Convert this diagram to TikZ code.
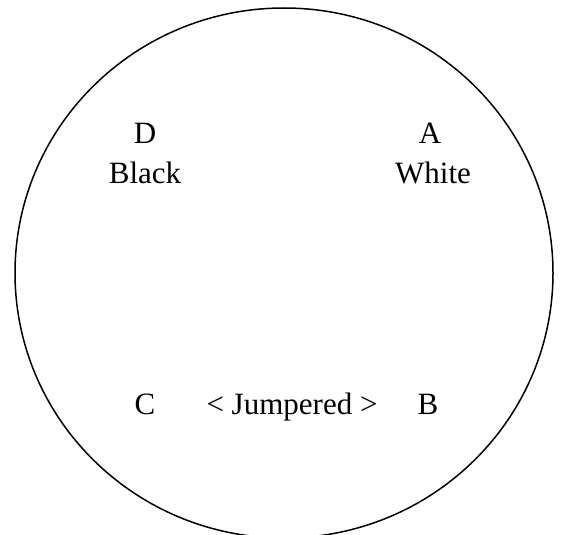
\documentclass[tikz,border=0pt]{standalone}
\usepackage{fontspec}
\setmainfont{Liberation Serif}
\usetikzlibrary{shapes.geometric}
\begin{document}
\begin{tikzpicture}[x=1pt,y=-1pt,
  lbl/.style={font=\fontsize{31}{39}\selectfont, align=center, inner sep=0pt, anchor=base}]
\useasboundingbox (0,0) rectangle (568,535);
\node[draw, line width=1.5pt, ellipse, minimum width=538pt, minimum height=530pt, inner sep=0pt] (ring) at (284,273) {};
\node[lbl] (d) at (145,143) {D};
\node[lbl] (black) at (145,183) {Black};
\node[lbl] (a) at (430,143) {A};
\node[lbl] (white) at (433,183) {White};
\node[lbl] (c) at (145,414) {C};
\node[lbl] (jmp) at (292,414) {< Jumpered >};
\node[lbl] (b) at (428,414) {B};
\end{tikzpicture}
\end{document}
